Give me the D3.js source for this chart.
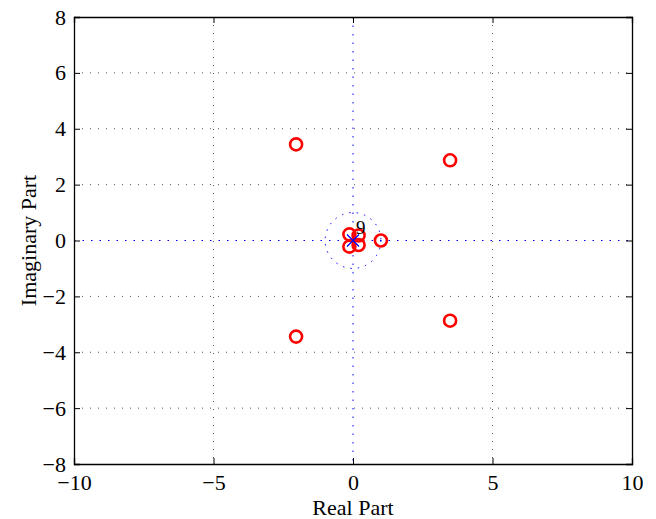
<!DOCTYPE html>
<html>
<head>
<meta charset="utf-8">
<script src="https://cdn.jsdelivr.net/npm/d3@7"></script>
<style>
  body { margin: 0; background: #fff; }
  svg text { font-family: "Liberation Serif", "Times New Roman", serif !important; }
</style>
</head>
<body>
<script>
// zplane-style chart: zeros (o), poles (x) and unit circle
const w = 656;
const h = 519;
const margin = { top: 17, right: 24, bottom: 55, left: 74 };

const zerosRe = [-2.04, -2.04, 3.48, 3.48, 1.0, -0.13, -0.13, 0.2, 0.2];
const zerosIm = [3.44, -3.44, 2.87, -2.87, 0, 0.22, -0.22, 0.18, -0.16];
const polesRe = [0];
const polesIm = [0];
const poleMultiplicity = ["9"];

const xTicks = [-10, -5, 0, 5, 10];
const yTicks = [-8, -6, -4, -2, 0, 2, 4, 6, 8];

const xScale = d3.scaleLinear().domain([-10, 10]).range([margin.left, w - margin.right]);
const yScale = d3.scaleLinear().domain([-8, 8]).range([h - margin.bottom, margin.top]);

const svg = d3.select("body").append("svg").attr("width", w).attr("height", h);

const x0 = xScale(-10), x1 = xScale(10), y0 = yScale(-8), y1 = yScale(8);

// grid
svg.selectAll("line.gx")
  .data(xTicks.filter(d => d > -10 && d < 10 && d !== 0))
  .enter().append("line")
  .attr("x1", d => xScale(d)).attr("x2", d => xScale(d))
  .attr("y1", y1).attr("y2", y0)
  .attr("stroke", "#555").attr("stroke-width", 1)
  .attr("stroke-dasharray", "1,7");

svg.selectAll("line.gy")
  .data(yTicks.filter(d => d > -8 && d < 8 && d !== 0))
  .enter().append("line")
  .attr("x1", x0).attr("x2", x1)
  .attr("y1", d => yScale(d)).attr("y2", d => yScale(d))
  .attr("stroke", "#555").attr("stroke-width", 1)
  .attr("stroke-dasharray", "1,7");

// blue axes through origin
svg.append("line")
  .attr("x1", x0).attr("x2", x1).attr("y1", yScale(0)).attr("y2", yScale(0))
  .attr("stroke", "#0000ff").attr("stroke-width", 1).attr("stroke-dasharray", "1.5,7");
svg.append("line")
  .attr("x1", xScale(0)).attr("x2", xScale(0)).attr("y1", y1).attr("y2", y0)
  .attr("stroke", "#0000ff").attr("stroke-width", 1).attr("stroke-dasharray", "1.5,7");

// unit circle
svg.append("ellipse")
  .attr("cx", xScale(0)).attr("cy", yScale(0))
  .attr("rx", xScale(1) - xScale(0)).attr("ry", yScale(0) - yScale(1))
  .attr("fill", "none").attr("stroke", "#0000ff").attr("stroke-width", 1)
  .attr("stroke-dasharray", "1.5,6");

// axes box with ticks
const fmt = d => d < 0 ? "\u2212" + Math.abs(d) : d;
const axisBottom = d3.axisBottom(xScale).tickValues(xTicks).tickSize(-6).tickPadding(10).tickFormat(fmt);
const axisTop = d3.axisTop(xScale).tickValues(xTicks).tickSize(-6).tickFormat("");
const axisLeft = d3.axisLeft(yScale).tickValues(yTicks).tickSize(-6).tickPadding(8).tickFormat(fmt);
const axisRight = d3.axisRight(yScale).tickValues(yTicks).tickSize(-6).tickFormat("");

function styleAxis(g) {
  g.attr("font-family", null).attr("font-size", null);
  g.select(".domain").attr("stroke", "#000").attr("stroke-width", 1.3);
  g.selectAll(".tick line").attr("stroke", "#000");
  g.selectAll(".tick text")
    .style("font-size", "22px").attr("fill", "#000");
}

svg.append("g").attr("transform", `translate(0,${y0})`).call(axisBottom).call(styleAxis);
svg.append("g").attr("transform", `translate(0,${y1})`).call(axisTop).call(styleAxis);
svg.append("g").attr("transform", `translate(${x0},0)`).call(axisLeft).call(styleAxis);
svg.append("g").attr("transform", `translate(${x1},0)`).call(axisRight).call(styleAxis);

// zeros
svg.selectAll("circle.zero")
  .data(zerosRe.map((r, i) => [r, zerosIm[i]]))
  .enter().append("circle")
  .attr("cx", d => xScale(d[0]))
  .attr("cy", d => yScale(d[1]))
  .attr("r", 6)
  .attr("fill", "none").attr("stroke", "#ff0000").attr("stroke-width", 2.6);

// poles
const s = 6;
polesRe.forEach((r, i) => {
  const cx = xScale(r), cy = yScale(polesIm[i]);
  svg.append("path")
    .attr("d", `M${cx - s},${cy - s}L${cx + s},${cy + s}M${cx - s},${cy + s}L${cx + s},${cy - s}`)
    .attr("stroke", "#0000ff").attr("stroke-width", 1.3).attr("fill", "none");
  svg.append("text")
    .attr("x", cx + 3).attr("y", cy - 7)
    .style("font-size", "19px").attr("fill", "#000")
    .text(poleMultiplicity[i]);
});

// labels
svg.append("text")
  .attr("x", (x0 + x1) / 2).attr("y", 515)
  .attr("text-anchor", "middle").style("font-size", "22px")
  .text("Real Part");

svg.append("text")
  .attr("transform", `translate(36,${(y0 + y1) / 2}) rotate(-90)`)
  .attr("text-anchor", "middle").style("font-size", "22px")
  .text("Imaginary Part");
</script>
</body>
</html>
